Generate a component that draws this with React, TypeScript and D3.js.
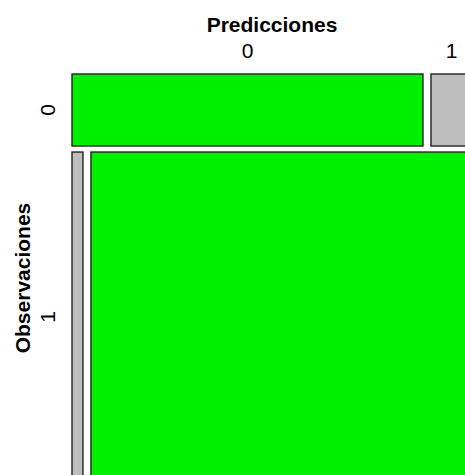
import React from "react";
import * as d3 from "d3";

const observaciones = ["0", "1"];
const predicciones = ["0", "1"];
// counts[obs][pred]
const counts0 = [77, 9];
const counts1 = [11, 383];
const counts = [counts0, counts1];
const cellColors = ["#00EE00", "#BEBEBE"];

export default function App() {
  const W = 465, H = 475;
  const x0 = 72, x1 = 472, y0 = 74, y1 = 482;
  const gapX = 8, gapY = 6;
  const rowTotals = counts.map((r) => d3.sum(r));
  const total = d3.sum(rowTotals);
  const yScale = d3.scaleLinear().domain([0, total]).range([y0, y1 - gapY * (counts.length - 1)]);
  const cells: any[] = [];
  let cumY = 0;
  counts.forEach((row, i) => {
    const top = yScale(cumY) + i * gapY;
    const bottom = yScale(cumY + rowTotals[i]) + i * gapY;
    const xScale = d3.scaleLinear().domain([0, rowTotals[i]]).range([x0, x1 - gapX * (row.length - 1)]);
    let cumX = 0;
    row.forEach((v, j) => {
      const left = xScale(cumX) + j * gapX;
      const right = xScale(cumX + v) + j * gapX;
      cells.push({ i, j, left, right, top, bottom, color: i === j ? cellColors[0] : cellColors[1] });
      cumX += v;
    });
    cumY += rowTotals[i];
  });
  const topCells = cells.filter((c) => c.i === 0);
  const leftCells = cells.filter((c) => c.j === 0);
  const font = "Liberation Sans, Arial, sans-serif";
  return (
    <svg width={W} height={H} style={{ position: "absolute", left: 0, top: 0, background: "#fff" }} overflow="hidden">
      {cells.map((c, k) => (
        <rect key={k} x={c.left} y={c.top} width={c.right - c.left} height={c.bottom - c.top}
          fill={c.color} stroke="#222" strokeWidth={1.4} />
      ))}
      <text x={(x0 + x1) / 2} y={32} textAnchor="middle" fontFamily={font} fontWeight="bold" fontSize={21}>Predicciones</text>
      {topCells.map((c, k) => (
        <text key={k} x={(c.left + c.right) / 2} y={58} textAnchor="middle" fontFamily={font} fontSize={21}>{predicciones[c.j]}</text>
      ))}
      <text transform={`translate(30,${(y0 + y1) / 2}) rotate(-90)`} textAnchor="middle" fontFamily={font} fontWeight="bold" fontSize={21}>Observaciones</text>
      {leftCells.map((c, k) => (
        <text key={k} transform={`translate(55,${(c.top + c.bottom) / 2}) rotate(-90)`} textAnchor="middle" fontFamily={font} fontSize={21}>{observaciones[c.i]}</text>
      ))}
    </svg>
  );
}
